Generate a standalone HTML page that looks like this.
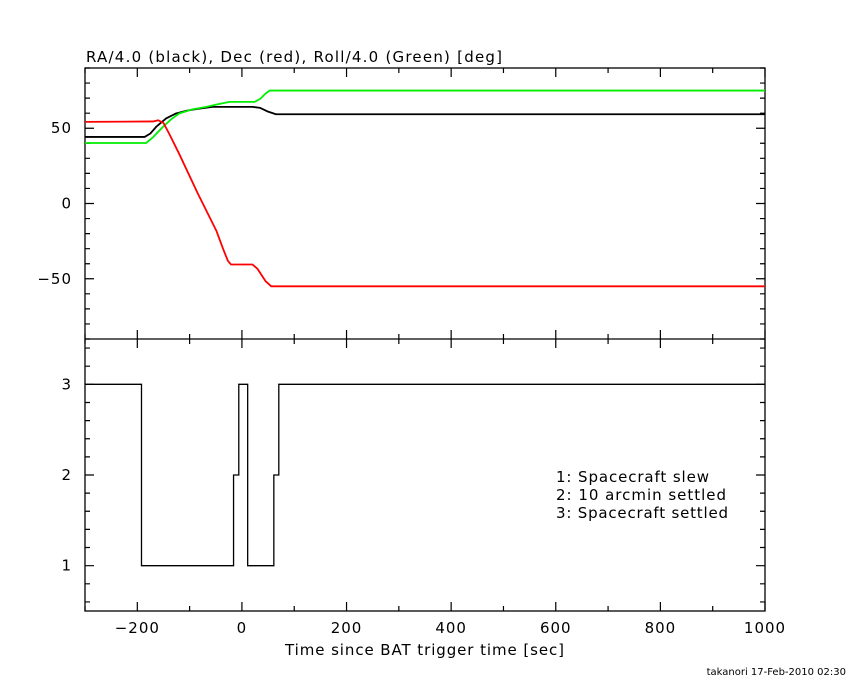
<!DOCTYPE html>
<html><head><meta charset="utf-8"><style>
body{margin:0;background:#fff}
svg text{font-family:"DejaVu Sans","Liberation Sans",sans-serif;font-size:15px;fill:#000;letter-spacing:1px}
</style></head><body>
<svg id="c" width="850" height="680" viewBox="0 0 850 680">
<text x="86" y="62" textLength="417">RA/4.0 (black), Dec (red), Roll/4.0 (Green) [deg]</text>
<text x="285" y="655" textLength="280">Time since BAT trigger time [sec]</text>
<text x="846" y="675" text-anchor="end" style="font-size:10px;letter-spacing:0">takanori 17-Feb-2010 02:30</text>
<g>
<text x="556" y="482" textLength="154">1: Spacecraft slew</text>
<text x="556" y="500" textLength="171">2: 10 arcmin settled</text>
<text x="556" y="518" textLength="173">3: Spacecraft settled</text>
</g>
</svg>
<script>
const xTicks=[-200,0,200,400,600,800,1000];
const topTicks=[50,0,-50];
const botTicks=[3,2,1];
const raT=[-300,-186,-175,-164,-145,-126,-105,-88,-56,20,35,50,65,1000];
const raV=[44.2,44.2,46.5,50.9,56.5,59.8,61.7,62.7,64.2,64.2,63.5,61,59.3,59.3];
const decT=[-300,-170,-160,-150,-140,-120,-84,-49,-35,-27,-21,20,30,45,56,1000];
const decV=[54.2,54.5,55.3,53.5,47,33,6.4,-18,-31,-38,-40.5,-40.5,-43.5,-51.5,-55,-55];
const rollT=[-300,-183,-170,-151,-135,-120,-95,-68,-45,-24,24,35,45,53,1000];
const rollV=[40.2,40.2,44,50.9,56,59.8,62.5,64.2,66,67.5,67.5,69.5,73,75,75];
const stepT=[-300,-192,-16,-6,11,61,70.5,1000];
const stepV=[3,1,2,3,1,2,3,3];
const L=85,R=765,T1=68,B1=339,T2=339,B2=611;
const X=t=>L+(t+300)/1300*(R-L);
const Y1=v=>T1+(90-v)/180*(B1-T1);
const Y2=v=>T2+(3.5-v)/3*(B2-T2);
const svg=document.getElementById('c');
const NS='http://www.w3.org/2000/svg';
function mk(tag,attrs){const e=document.createElementNS(NS,tag);for(const k in attrs)e.setAttribute(k,attrs[k]);svg.appendChild(e);return e;}
let fr=mk('rect',{x:L,y:T1,width:R-L,height:B2-T1,fill:'none',stroke:'#000','stroke-width':1.3});


let mid=mk('line',{x1:L,x2:R,y1:B1,y2:B1,stroke:'#000','stroke-width':1.3});


let tp='';
for(let t=-300;t<=1000;t+=100){const x=X(t);const h=(t%200===0)?9:5;
 tp+=`M${x} ${T1}v${h}M${x} ${B2}v${-h}M${x} ${B1}v${-h}M${x} ${B1}v${h}`;}
for(let v=-90;v<=90;v+=10){const y=Y1(v);const h=(v%50===0)?9:5;tp+=`M${L} ${y}h${h}M${R} ${y}h${-h}`;}
for(let k=3;k<=17;k++){const v=k*0.2;const y=Y2(v);const h=(Math.abs(v-Math.round(v))<1e-6)?9:5;tp+=`M${L} ${y}h${h}M${R} ${y}h${-h}`;}
let tk=mk('path',{d:tp,stroke:'#000','stroke-width':1.2,fill:'none'});


xTicks.forEach(t=>{const e=mk('text',{x:X(t),y:633,'text-anchor':'middle'});e.textContent=(t<0?'\u2212'+(-t):t);
 
 });
topTicks.forEach(v=>{const e=mk('text',{x:72,y:Y1(v)+5,'text-anchor':'end'});e.textContent=(v<0?'\u2212'+(-v):v);
 
 });
botTicks.forEach(v=>{const e=mk('text',{x:72,y:Y2(v)+5,'text-anchor':'end'});e.textContent=v;
 
 });
function line(ts,vs,col,name){const d=ts.map((t,i)=>(i?'L':'M')+X(t)+' '+Y1(vs[i])).join('');
 const e=mk('path',{d:d,stroke:col,'stroke-width':1.8,fill:'none','stroke-linejoin':'round'});
 
 }
line(raT,raV,'#000','ra-series');
line(rollT,rollV,'#00ee00','roll-series');
line(decT,decV,'#ff0000','dec-series');
let sd='M'+X(stepT[0])+' '+Y2(stepV[0]);
for(let i=1;i<stepT.length;i++){sd+='H'+X(stepT[i])+'V'+Y2(stepV[i]);}
let st=mk('path',{d:sd,stroke:'#000','stroke-width':1.3,fill:'none'});


</script>
</body></html>
